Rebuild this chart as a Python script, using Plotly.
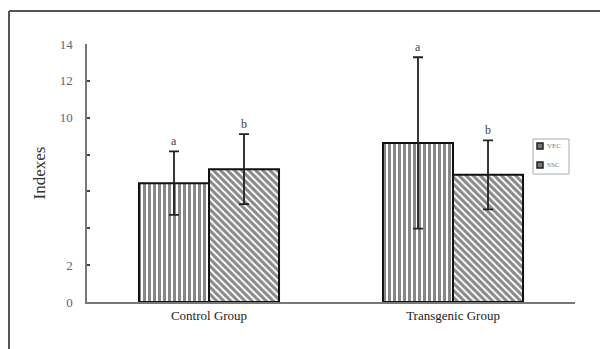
import plotly.graph_objects as go

categories = ["Control Group", "Transgenic Group"]
series_names = ["VEC", "SSC"]
vec_values = [6.45, 8.63]
vec_errors = [1.72, 4.65]
ssc_values = [7.21, 6.90]
ssc_errors = [1.9, 1.87]
vec_letters = ["a", "a"]
ssc_letters = ["b", "b"]
y_tickvals = [0, 2, 4, 6, 8, 10, 12, 14]
y_ticktext = ["0", "2", "", "", "", "10", "12", "14"]

serif = "Liberation Serif, Times New Roman, serif"
xpos = list(range(len(categories)))
bargap = 0.426
bw = (1 - bargap) / 2

# plot area in page pixels (page has 8px body margin)
PX0, PX1, PY0, PY1 = 87, 575, 44, 302


def px(xp):
    return (xp - PX0) / (PX1 - PX0)


def py(yp):
    return (PY1 - yp) / (PY1 - PY0)


fig = go.Figure()
fig.add_trace(go.Bar(
    name=series_names[0], x=xpos, y=vec_values, showlegend=False,
    error_y=dict(type="data", array=vec_errors, color="#222", thickness=1.8, width=5),
    marker=dict(color="white", line=dict(color="#111", width=2),
                pattern=dict(shape="|", fgcolor="#111", bgcolor="white", size=5, solidity=0.6)),
))
fig.add_trace(go.Bar(
    name=series_names[1], x=xpos, y=ssc_values, showlegend=False,
    error_y=dict(type="data", array=ssc_errors, color="#222", thickness=1.8, width=5),
    marker=dict(color="white", line=dict(color="#111", width=2),
                pattern=dict(shape="\\", fgcolor="#111", bgcolor="white", size=5, solidity=0.6)),
))

annotations = []
for i in xpos:
    annotations.append(dict(x=i - bw / 2, y=vec_values[i] + vec_errors[i], text=vec_letters[i],
                            showarrow=False, yanchor="bottom", yshift=1,
                            font=dict(family=serif, size=12, color="#444")))
    annotations.append(dict(x=i + bw / 2, y=ssc_values[i] + ssc_errors[i], text=ssc_letters[i],
                            showarrow=False, yanchor="bottom", yshift=1,
                            font=dict(family=serif, size=12, color="#444")))

# frame and compact legend
shapes = [
    dict(type="line", xref="paper", yref="paper", x0=px(9), x1=px(620), y0=py(11), y1=py(11),
         line=dict(color="#555", width=2)),
    dict(type="line", xref="paper", yref="paper", x0=px(9), x1=px(9), y0=py(11), y1=py(360),
         line=dict(color="#555", width=2)),
    dict(type="rect", xref="paper", yref="paper", x0=px(533), x1=px(569), y0=py(139), y1=py(174),
         line=dict(color="#aaa", width=1), fillcolor="white"),
]
for k, (yc, name) in enumerate([(146, series_names[0]), (165, series_names[1])]):
    shapes.append(dict(type="rect", xref="paper", yref="paper",
                       x0=px(537), x1=px(543), y0=py(yc + 3), y1=py(yc - 3),
                       line=dict(color="#222", width=1.5), fillcolor="#777"))
    annotations.append(dict(xref="paper", yref="paper", x=px(545), y=py(yc), text=name,
                            showarrow=False, xanchor="left", yanchor="middle",
                            font=dict(family=serif, size=7, color="#777")))

fig.update_layout(
    width=600, height=341,
    margin=dict(l=79, r=33, t=36, b=47),
    paper_bgcolor="white", plot_bgcolor="white",
    barmode="group", bargap=bargap, bargroupgap=0,
    showlegend=False,
    xaxis=dict(range=[-0.5, 1.5], tickvals=xpos, ticktext=categories,
               showline=True, linecolor="#777", linewidth=2, ticks="",
               showgrid=False, zeroline=False,
               tickfont=dict(family=serif, size=13, color="#222")),
    yaxis=dict(range=[0, 14], tickvals=y_tickvals, ticktext=y_ticktext,
               showline=True, linecolor="#777", linewidth=1.5,
               ticks="inside", ticklen=3, tickcolor="#444", tickwidth=1.5,
               ticklabelstandoff=10,
               showgrid=False, zeroline=False,
               tickfont=dict(family=serif, size=13, color="#666"),
               title=dict(text="Indexes", standoff=10,
                          font=dict(family=serif, size=17, color="#333"))),
    annotations=annotations,
    shapes=shapes,
)

fig.write_html("out.html")
